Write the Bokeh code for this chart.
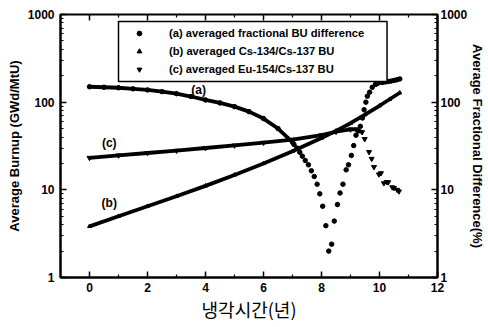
import math
from bokeh.plotting import figure
from bokeh.models import LogAxis, Legend, LegendItem, FixedTicker, BoxAnnotation
from bokeh.embed import file_html
from bokeh.resources import INLINE
from bokeh.core.properties import value

# ---------------- data ----------------
# (a) averaged fractional BU difference  (right axis, %)
a_dense_x = [0.0, 0.5, 1.0, 1.5, 2.0, 2.5, 3.0, 3.5, 4.0, 4.5, 5.0, 5.5, 6.0, 6.5, 7.0]
a_dense_y = [150, 148, 146, 142, 138, 132, 125, 116, 106, 98, 89, 78, 65, 50, 35]
a_dots_x = [7.05, 7.15, 7.25, 7.34, 7.44, 7.55, 7.65, 7.75, 7.85, 7.94, 8.04, 8.15, 8.25,
            8.35, 8.44, 8.55, 8.64, 8.74, 8.85, 8.93, 9.03, 9.11, 9.19, 9.27, 9.34, 9.41,
            9.47, 9.53, 9.58, 9.66, 9.75, 9.87]
a_dots_y = [33, 30, 26.9, 24.2, 21.6, 19.3, 16.5, 14.2, 11.6, 9.0, 6.5, 3.9, 2.0,
            2.4, 4.4, 6.8, 9.2, 11.6, 16.9, 19.3, 24.7, 32, 42, 47, 53, 66,
            82, 100, 117, 130, 148, 160]
a_top_x = [9.87, 9.95, 10.1, 10.2, 10.3, 10.4, 10.5, 10.6, 10.7]
a_top_y = [160, 165, 168, 170, 172, 174, 177, 180, 184]

# (b) averaged Cs-134/Cs-137 BU  (left axis, GWd/MtU)
b_x = [0, 1, 2, 3, 4, 5, 6, 7, 8, 8.5, 9, 9.5, 10, 10.35, 10.7]
b_y = [3.83, 5.0, 6.5, 8.45, 11.1, 14.8, 20.0, 27.5, 39, 47, 57.5, 72, 91, 108, 128]

# (c) averaged Eu-154/Cs-137 BU  (left axis, GWd/MtU)
c_dense_x = [0, 1, 2, 3, 4, 5, 6, 7, 8, 8.5, 9.0, 9.2, 9.4]
c_dense_y = [23.2, 24.7, 26.3, 28.0, 30.0, 32.1, 34.5, 37.3, 42, 46, 49, 49, 45.5]
c_tail_x = [9.49, 9.64, 9.73, 9.81, 9.98, 10.05, 10.15, 10.25, 10.3, 10.44, 10.5, 10.61, 10.67]
c_tail_y = [38, 27, 22.6, 18.2, 15, 15.5, 11.9, 12.3, 12.2, 10.7, 10.5, 10.0, 9.6]

legend_labels = ["(a) averaged fractional BU difference",
                 "(b) averaged Cs-134/Cs-137 BU",
                 "(c) averaged Eu-154/Cs-137 BU"]
curve_tags = ["(a)", "(b)", "(c)"]
tag_x = [3.76, 0.68, 0.68]
tag_y = [138, 7.0, 33.8]

x_ticks = [0, 2, 4, 6, 8, 10, 12]
x_minor = [-1, 1, 3, 5, 7, 9, 11]
y_ticks = [1, 10, 100, 1000]
y_labels = {1: "1", 10: "10", 100: "100", 1000: "1000"}

x_title = "냉각시간(년)"
y_title = "Average Burnup (GWd/MtU)"
y2_title = "Average Fractional Difference(%)"

# legend frame extent (axis units)
legend_box = dict(left=1.0, right=10.26, top=832, bottom=172)

# ---------------- figure ----------------
FONT = "Liberation Sans"
p = figure(width=488, height=327, x_range=(-1, 12), y_range=(1, 1000),
           y_axis_type="log", output_backend="svg", toolbar_location=None,
           min_border_left=60, min_border_right=51, min_border_top=14, min_border_bottom=50)
p.grid.visible = False
p.outline_line_color = "black"
p.outline_line_width = 2
p.background_fill_color = "white"
p.border_fill_color = "white"

y_minor = [m * d for d in (1, 10, 100) for m in range(2, 10)]


def style_axis(ax):
    ax.axis_line_width = 2
    ax.axis_line_color = "black"
    ax.major_tick_in = 6
    ax.major_tick_out = 0
    ax.minor_tick_in = 3
    ax.minor_tick_out = 0
    ax.major_tick_line_width = 1.5
    ax.minor_tick_line_width = 1.2
    ax.major_label_text_font = FONT
    ax.major_label_text_font_style = "bold"
    ax.major_label_text_color = "black"
    ax.major_label_text_font_size = "12px"
    ax.axis_label_text_font = FONT
    ax.axis_label_text_font_style = "bold"
    ax.axis_label_text_font_size = "13px"
    ax.axis_label_text_color = "black"


xa = p.xaxis[0]
xa.ticker = FixedTicker(ticks=x_ticks, minor_ticks=x_minor)
style_axis(xa)
xa.major_label_standoff = 5
xa.axis_label = x_title
xa.axis_label_text_font = "Noto Sans CJK KR"
xa.axis_label_text_font_style = "normal"
xa.axis_label_text_font_size = "18px"
xa.axis_label_standoff = 1

ya = p.yaxis[0]
ya.ticker = FixedTicker(ticks=y_ticks, minor_ticks=y_minor)
ya.major_label_overrides = y_labels
style_axis(ya)
ya.major_label_standoff = 6
ya.axis_label = y_title
ya.axis_label_standoff = 3

right = LogAxis(ticker=FixedTicker(ticks=y_ticks, minor_ticks=y_minor))
right.major_label_overrides = y_labels
style_axis(right)
right.major_label_standoff = 3
right.axis_label = y2_title
right.axis_label_standoff = 0
p.add_layout(right, "right")

# top-edge tick marks (mirror of the x ticks), drawn as clipped dashes on the top edge
top_y = y_ticks[-1]
p.scatter(x_ticks, [top_y] * len(x_ticks), marker="dash", angle=math.pi / 2, size=12,
          line_color="black", line_width=1.5)
p.scatter(x_minor, [top_y] * len(x_minor), marker="dash", angle=math.pi / 2, size=6,
          line_color="black", line_width=1.2)

# ---------------- glyphs ----------------
LW = 3.8
p.line(a_dense_x, a_dense_y, line_color="black", line_width=LW)
p.line(a_top_x, a_top_y, line_color="black", line_width=LW)
ra = p.scatter(a_dense_x + a_dots_x + a_top_x, a_dense_y + a_dots_y + a_top_y,
               marker="circle", size=4.5, fill_color="black", line_color="black")

p.line(b_x, b_y, line_color="black", line_width=LW)
rb = p.scatter(b_x, b_y, marker="triangle", size=4, fill_color="black", line_color="black")

p.line(c_dense_x, c_dense_y, line_color="black", line_width=LW)
rc = p.scatter(c_dense_x + c_tail_x, c_dense_y + c_tail_y, marker="inverted_triangle",
               size=5, fill_color="black", line_color="black")

p.text(tag_x, tag_y, text=curve_tags, text_font=value(FONT), text_font_style="bold",
       text_font_size="12px", text_align="center", text_baseline="middle", text_color="black")

# legend frame
p.add_layout(BoxAnnotation(left=legend_box["left"], right=legend_box["right"],
                           top=legend_box["top"], bottom=legend_box["bottom"],
                           fill_color="white", fill_alpha=1.0,
                           line_color="black", line_width=1.5, line_alpha=1.0))

legend = Legend(items=[LegendItem(label=legend_labels[0], renderers=[ra]),
                       LegendItem(label=legend_labels[1], renderers=[rb]),
                       LegendItem(label=legend_labels[2], renderers=[rc])],
                location=(61, 199), margin=0, padding=3, spacing=6,
                label_height=12, glyph_height=12, glyph_width=30, label_standoff=15,
                label_width=200,
                label_text_font=FONT, label_text_font_style="bold",
                label_text_font_size="11.2px", label_text_color="black",
                border_line_alpha=0.0, background_fill_alpha=0.0)
p.add_layout(legend)

open("out.html", "w").write(file_html(p, INLINE))
